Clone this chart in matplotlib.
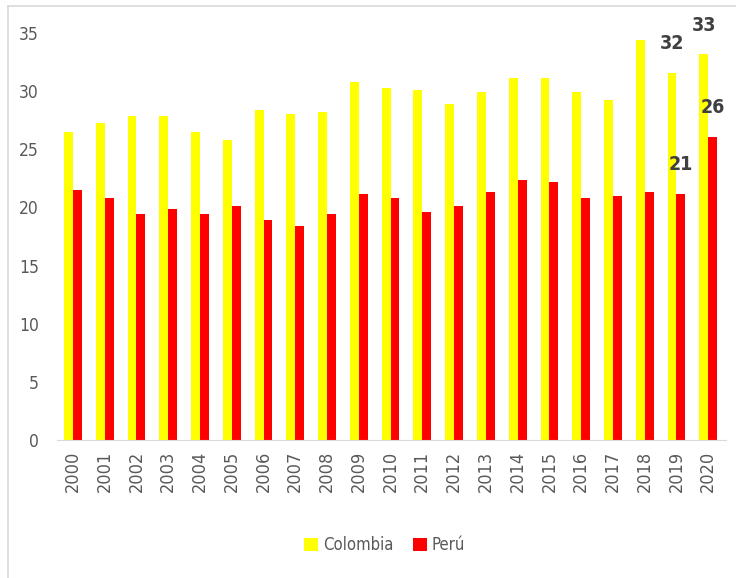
import numpy as np
import matplotlib.pyplot as plt
from matplotlib.lines import Line2D

plt.rcParams['font.family'] = ['DejaVu Sans']
plt.rcParams['font.stretch'] = 'condensed'

years = [str(y) for y in range(2000, 2021)]
colombia = [26.5, 27.3, 27.9, 27.9, 26.5, 25.8, 28.4, 28.0, 28.2, 30.8, 30.3,
            30.1, 28.9, 29.9, 31.1, 31.1, 29.9, 29.2, 34.4, 31.6, 33.2]
peru = [21.5, 20.8, 19.4, 19.9, 19.4, 20.1, 18.9, 18.4, 19.4, 21.2, 20.8,
        19.6, 20.1, 21.3, 22.4, 22.2, 20.8, 21.0, 21.3, 21.2, 26.1]

fig = plt.figure(figsize=(7.36, 5.78), dpi=100)
ax = fig.add_axes([0.0775, 0.2388, 0.9085, 0.7040])

x = np.arange(len(years))
w = 0.28
b1 = ax.bar(x - w / 2, colombia, w, color='#FFFF00', label='Colombia')
b2 = ax.bar(x + w / 2, peru, w, color='#FF0000', label='Perú')

# etiquetas solo para los dos ultimos años
for bars, vals in [(b1, colombia), (b2, peru)]:
    for i in [19, 20]:
        r = bars[i]
        ax.annotate(f'{vals[i]:.0f}', (r.get_x() + r.get_width() / 2, vals[i]),
                    xytext=(0, 14), textcoords='offset points', ha='center', va='bottom',
                    fontsize=14, fontweight='bold', color='#404040', annotation_clip=False)

ax.set_xlim(-0.5, 20.55)
ax.set_ylim(0, 35)
ax.set_xticks(x)
ax.set_xticklabels(years, rotation=90, fontsize=13, color='#595959')
ax.set_yticks(range(0, 36, 5))
ax.tick_params(axis='y', labelsize=12.5, labelcolor='#595959', length=0, pad=13)
ax.tick_params(axis='x', length=0, pad=8)
for s in ['top', 'right', 'left']:
    ax.spines[s].set_visible(False)
ax.spines['bottom'].set_color('#D9D9D9')

ax.legend(loc='upper center', bbox_to_anchor=(0.49, -0.20), ncol=2, frameon=False,
          fontsize=12, handlelength=0.8, handleheight=0.8, handletextpad=0.3,
          columnspacing=1.2, labelcolor='#595959')

# borde del grafico
fig.add_artist(Line2D([0.011, 1.0], [0.99, 0.99], color='#D9D9D9', lw=1.2))
fig.add_artist(Line2D([0.011, 0.011], [0.0, 0.99], color='#D9D9D9', lw=1.2))

fig.savefig('out.png', dpi=100)
